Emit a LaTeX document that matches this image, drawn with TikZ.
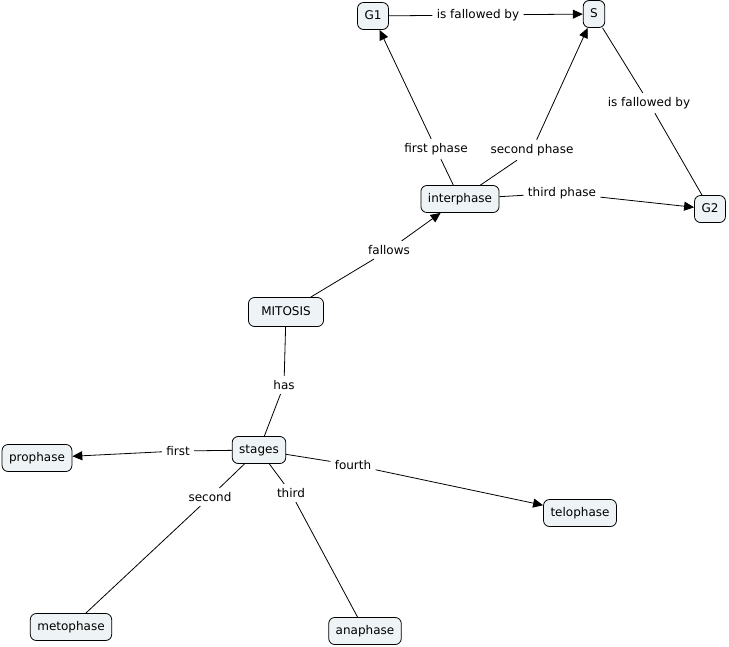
\documentclass[tikz,border=0pt]{standalone}
\usepackage{fontspec}
\setmainfont{DejaVu Sans}
\usetikzlibrary{arrows.meta}
\definecolor{boxfill}{HTML}{EEF3F5}
\tikzset{
  concept/.style={draw,rounded corners=6pt,fill=boxfill,line width=0.8pt,
    inner xsep=7pt,inner ysep=8pt,text height=8.5pt,text depth=2.5pt,
    font=\fontsize{12}{14}\selectfont},
  link/.style={inner sep=4pt,font=\fontsize{12}{14}\selectfont},
  arr/.style={-{Triangle[length=10pt,width=9pt]}},
}
\begin{document}
\begin{tikzpicture}[x=1pt,y=-1pt,line width=0.8pt]
\useasboundingbox (0,0) rectangle (729,646);
% coordinates
\coordinate (g1)  at (373,16);%
\coordinate (s)   at (594,14);%
\coordinate (g2)  at (710,209);%
\coordinate (int) at (460,199);%
\coordinate (mit) at (286,312);%
\coordinate (stg) at (259,450);%
\coordinate (pro) at (37,458);%
\coordinate (tel) at (580,513);%
\coordinate (met) at (71,627);%
\coordinate (ana) at (365,631);%
% concepts
\node[concept] (G1)        at (g1)  {G1};
\node[concept] (S)         at (s)   {S};
\node[concept] (G2)        at (g2)  {G2};
\node[concept] (interphase) at (int) {interphase};
\node[concept,minimum width=75pt,minimum height=29pt] (mitosis) at (mit) {MITOSIS};
\node[concept] (stages)    at (stg) {stages};
\node[concept] (prophase)  at (pro) {prophase};
\node[concept] (telophase) at (tel) {telophase};
\node[concept] (metophase) at (met) {metophase};
\node[concept] (anaphase)  at (ana) {anaphase};
% linking phrases
\node[link] (l1)  at (478,15)  {is fallowed by};
\node[link] (l2)  at (649,103) {is fallowed by};
\node[link] (l3)  at (436,149) {first phase};
\node[link] (l4)  at (532,150) {second phase};
\node[link] (l5)  at (562,193) {third phase};
\node[link] (l6)  at (389,250) {fallows};
\node[link] (l7)  at (284,385) {has};
\node[link] (l8)  at (178,451) {first};
\node[link] (l9)  at (210,497) {second};
\node[link] (l10) at (291,493) {third};
\node[link] (l11) at (353,465) {fourth};
% connectors
\draw (G1) -- (l1);          \draw[arr] (l1) -- (S);
\draw (S) -- (l2);           \draw (l2) -- (G2);
\draw (interphase) -- (l3);  \draw[arr] (l3) -- (G1);
\draw (interphase) -- (l4);  \draw[arr] (l4) -- (S);
\draw (interphase) -- (l5);  \draw[arr] (l5) -- (G2);
\draw (mitosis) -- (l6);     \draw[arr] (l6) -- (interphase);
\draw (mitosis) -- (l7);     \draw (l7) -- (stages);
\draw (stages) -- (l8);      \draw[arr] (l8) -- (prophase);
\draw (stages) -- (l9);      \draw (l9) -- (metophase);
\draw (stages) -- (l10);     \draw (l10) -- (anaphase);
\draw (stages) -- (l11);     \draw[arr] (l11) -- (telophase);
\end{tikzpicture}
\end{document}
